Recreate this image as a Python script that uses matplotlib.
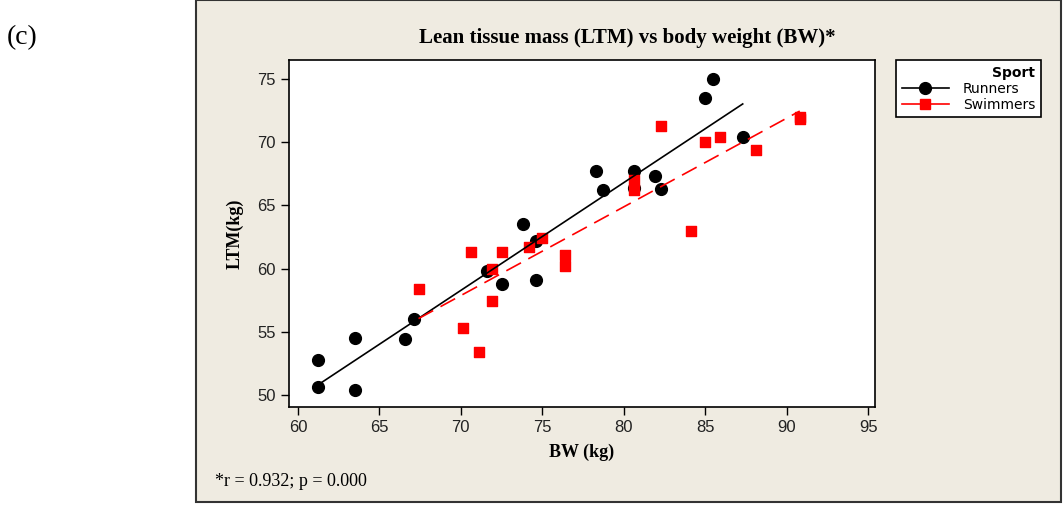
import numpy as np
import matplotlib.pyplot as plt
from matplotlib.patches import Rectangle
from matplotlib.lines import Line2D

# Runners (black circles)
runners_bw = [61.2, 61.2, 63.5, 63.5, 66.6, 67.1, 71.6, 72.5, 74.6, 74.6,
              73.8, 78.3, 78.7, 80.6, 80.6, 81.9, 82.3, 85.0, 85.5, 87.3]
runners_ltm = [52.8, 50.6, 54.5, 50.4, 54.4, 56.0, 59.8, 58.8, 59.1, 62.2,
               63.5, 67.7, 66.2, 67.7, 66.4, 67.3, 66.3, 73.5, 75.0, 70.4]

# Swimmers (red squares)
swimmers_bw = [67.4, 70.1, 71.1, 70.6, 71.9, 71.9, 72.5, 74.2, 75.0, 76.4,
               76.4, 80.6, 80.6, 82.3, 84.1, 85.0, 85.9, 88.1, 90.8, 90.8]
swimmers_ltm = [58.4, 55.3, 53.4, 61.3, 57.4, 60.0, 61.3, 61.7, 62.4, 61.1,
                60.2, 67.0, 66.2, 71.3, 63.0, 70.0, 70.4, 69.4, 72.0, 71.8]

fig = plt.figure(figsize=(10.63, 5.08), dpi=100)
fig.patch.set_facecolor('white')

# beige panel with border
fig.patches.append(Rectangle((196 / 1063, 1 - 502 / 508), 865 / 1063, 502 / 508,
                             transform=fig.transFigure, facecolor='#efebe1',
                             edgecolor='#333333', linewidth=1.5, zorder=-10))

ax = fig.add_axes([289 / 1063, 1 - 407 / 508, 586 / 1063, 347 / 508])
ax.set_facecolor('white')

ax.scatter(runners_bw, runners_ltm, s=72, marker='o', color='black', zorder=3)
ax.scatter(swimmers_bw, swimmers_ltm, s=55, marker='s', color='#ff0000', zorder=4)

# least-squares fits over each group's range
for bw, ltm, col, ls in [(runners_bw, runners_ltm, 'black', '-'),
                         (swimmers_bw, swimmers_ltm, '#ff0000', '--')]:
    b, a = np.polyfit(bw, ltm, 1)
    xs = np.array([min(bw), max(bw)])
    ln, = ax.plot(xs, a + b * xs, color=col, lw=1.2, linestyle=ls, zorder=5)
    if ls == '--':
        ln.set_dashes((10, 5))

ax.set_xlim(59.45, 95.42)
ax.set_ylim(49.05, 76.5)
ax.set_xticks(range(60, 96, 5))
ax.set_yticks(range(50, 76, 5))
ax.tick_params(direction='out', length=6, width=1, labelsize=12, colors='black',
               labelcolor='#222222')
for lab in ax.get_xticklabels() + ax.get_yticklabels():
    lab.set_family('Liberation Sans')
for sp in ax.spines.values():
    sp.set_linewidth(1.2)

serif = 'Liberation Serif'
ax.set_xlabel('BW (kg)', family=serif, fontweight='bold', fontsize=13, labelpad=6)
ax.set_ylabel('LTM(kg)', family=serif, fontweight='bold', fontsize=13, labelpad=10)

fig.text(627 / 1063, 1 - 38 / 508, 'Lean tissue mass (LTM) vs body weight (BW)*',
         family=serif, fontweight='bold', fontsize=15, ha='center', va='center')
fig.text(215 / 1063, 1 - 481 / 508, '*r = 0.932; p = 0.000', family=serif,
         fontsize=13, ha='left', va='center')
fig.text(7 / 1063, 1 - 38 / 508, '(c)', family=serif, fontsize=20,
         ha='left', va='center')

handles = [Line2D([], [], color='black', marker='o', markersize=8.5, lw=1.2),
           Line2D([], [], color='#ff0000', marker='s', markersize=7.5, lw=1.2)]
leg = fig.legend(handles, ['Runners', 'Swimmers'], title='Sport',
                 loc='upper left', bbox_to_anchor=(896 / 1063, 1 - 60 / 508),
                 fancybox=False, edgecolor='black', framealpha=1,
                 prop={'family': 'DejaVu Sans', 'size': 10}, handlelength=3.4,
                 alignment='right', borderpad=0.4, labelspacing=0.15,
                 handletextpad=1.0, borderaxespad=0)
leg.get_title().set_fontweight('bold')
leg.get_title().set_fontsize(10)
leg.get_frame().set_linewidth(1.2)

fig.savefig('out.png', dpi=100)
